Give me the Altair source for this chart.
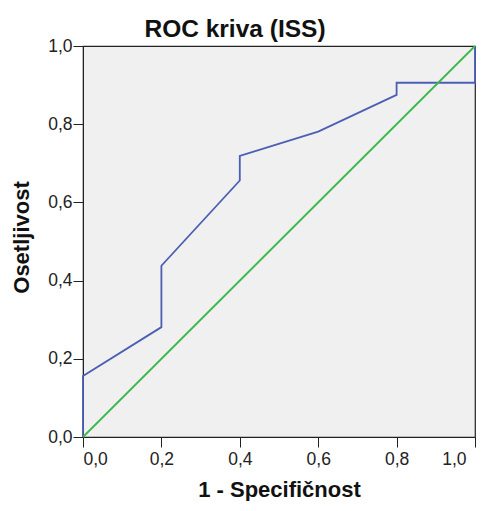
import altair as alt
import pandas as pd

fpr = [0.0, 0.0, 0.2, 0.2, 0.4, 0.4, 0.6, 0.8, 0.8, 1.0, 1.0]
tpr = [0.0, 0.156, 0.281, 0.438, 0.656, 0.719, 0.781, 0.875, 0.906, 0.906, 1.0]
ref_x = [0.0, 1.0]
ref_y = [0.0, 1.0]
ticks = [0.0, 0.2, 0.4, 0.6, 0.8, 1.0]

roc = pd.DataFrame({"x": fpr, "y": tpr, "o": list(range(len(fpr)))})
ref = pd.DataFrame({"x": ref_x, "y": ref_y, "o": [0, 1]})

fmt_expr = "replace(format(datum.value, '.1f'), '.', ',')"

xs = alt.X("x:Q", scale=alt.Scale(domain=[0, 1], nice=False),
           axis=alt.Axis(values=ticks, labelExpr=fmt_expr, title="1 - Specifičnost",
                         grid=False, tickSize=10, labelPadding=3,
                         labelOffset={"condition": {"test": "datum.value == 1", "value": -9},
                                      "value": 0},
                         titleBaseline="alphabetic", titleY=59))
ys = alt.Y("y:Q", scale=alt.Scale(domain=[0, 1], nice=False),
           axis=alt.Axis(values=ticks, labelExpr=fmt_expr, title="Osetljivost",
                         grid=False, tickSize=10, labelPadding=1,
                         titleBaseline="alphabetic", titleAngle=270,
                         titleX=-55, titleY=191))

line_roc = alt.Chart(roc).mark_line(color="#4A5FB4", strokeWidth=1.8).encode(
    x=xs, y=ys, order="o:Q")
line_ref = alt.Chart(ref).mark_line(color="#3CB94A", strokeWidth=1.8).encode(
    x=xs, y=ys, order="o:Q")

chart = alt.layer(line_roc, line_ref).properties(
    width=392, height=391,
    title=alt.TitleParams("ROC kriva (ISS)", fontSize=24.5, font="Liberation Sans",
                          fontWeight="bold", color="#111", dx=-44, offset=-5),
    autosize=alt.AutoSizeParams(type="none"),
    padding={"left": 75, "top": 38, "right": 3, "bottom": 64},
).configure_view(
    fill="#F0F0F0", stroke="#222", strokeWidth=1.2
).configure_axis(
    labelFont="Liberation Sans", labelFontSize=17.5, labelColor="#222",
    titleFont="Liberation Sans", titleFontSize=22, titleFontWeight="bold", titleColor="#111",
    domainColor="#222", tickColor="#222"
)

chart.save("out.html", embed_options={"renderer": "svg", "actions": False})
